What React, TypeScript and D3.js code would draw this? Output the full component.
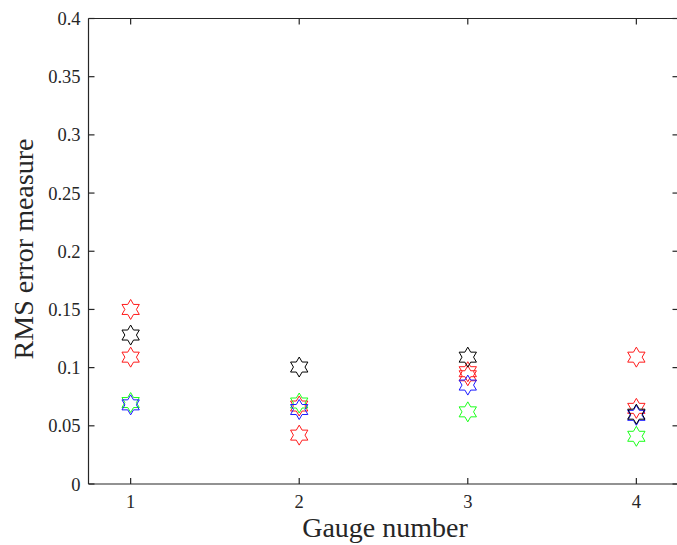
import React from "react";
import * as d3 from "d3";

const gauges = [1, 2, 3, 4];
const yTicks = [0, 0.05, 0.1, 0.15, 0.2, 0.25, 0.3, 0.35, 0.4];
const redA = [0.150, 0.067, 0.0965, 0.109];
const redB = [0.109, 0.042, 0.093, 0.065];
const green = [0.070, 0.0696, 0.062, 0.041];
const blue = [0.068, 0.064, 0.085, 0.059];
const black = [0.128, 0.1005, 0.109, 0.060];

const seriesList = [
  { name: "redA", color: "#ff1a1a", values: redA },
  { name: "redB", color: "#ff1a1a", values: redB },
  { name: "green", color: "#1aff1a", values: green },
  { name: "blue", color: "#1a1aff", values: blue },
  { name: "black", color: "#000000", values: black },
];

const W = 677, H = 545;
const left = 88.5, top = 18.5, bottom = 484, right = 678.5;
const axisColor = "#262626";
const font = "'Liberation Serif', 'Times New Roman', serif";

function hexagram(R: number) {
  const r = R / Math.sqrt(3);
  const pts: [number, number][] = [];
  for (let i = 0; i < 12; i++) {
    const a = (Math.PI / 6) * i - Math.PI / 2;
    const rad = i % 2 === 0 ? R : r;
    pts.push([rad * Math.cos(a), rad * Math.sin(a)]);
  }
  return d3.line()(pts.concat([pts[0]])) + "Z";
}

export default function App() {
  const x = d3.scaleLinear().domain([0.75, 4.25]).range([left, right]);
  const y = d3.scaleLinear().domain([0, 0.4]).range([bottom, top]);
  const star = hexagram(10);
  return (
    <svg width={W} height={H} style={{ position: "absolute", left: 0, top: 0, background: "#fff" }}>
      <rect x={0} y={0} width={W} height={H} fill="#fff" />
      {seriesList.map((s) =>
        s.values.map((v, i) => (
          <path
            key={s.name + i}
            d={star}
            transform={`translate(${x(gauges[i])},${y(v)})`}
            fill="none"
            stroke={s.color}
            strokeWidth={1}
          />
        ))
      )}
      <g stroke={axisColor} strokeWidth={1.2} fill="none">
        <line x1={left} x2={right} y1={bottom} y2={bottom} />
        <line x1={left} x2={right} y1={top} y2={top} />
        <line x1={left} x2={left} y1={top} y2={bottom} />
        <line x1={right} x2={right} y1={top} y2={bottom} />
        {gauges.map((g) => (
          <g key={"xt" + g}>
            <line x1={x(g)} x2={x(g)} y1={bottom} y2={bottom - 6} />
            <line x1={x(g)} x2={x(g)} y1={top} y2={top + 6} />
          </g>
        ))}
        {yTicks.map((t) => (
          <g key={"yt" + t}>
            <line x1={left} x2={left + 6} y1={y(t)} y2={y(t)} />
            <line x1={right} x2={right - 6} y1={y(t)} y2={y(t)} />
          </g>
        ))}
      </g>
      <g fill={axisColor} fontFamily={font} fontSize={18.5}>
        {gauges.map((g) => (
          <text key={"xl" + g} x={x(g)} y={507.5} textAnchor="middle">
            {g}
          </text>
        ))}
        {yTicks.map((t) => (
          <text key={"yl" + t} x={80.5} y={y(t) + 6.5} textAnchor="end">
            {String(t)}
          </text>
        ))}
      </g>
      <text x={385} y={537} textAnchor="middle" fontFamily={font} fontSize={28} fill={axisColor}>
        Gauge number
      </text>
      <text
        transform={`translate(33,249) rotate(-90)`}
        textAnchor="middle"
        fontFamily={font}
        fontSize={28}
        fill={axisColor}
      >
        RMS error measure
      </text>
    </svg>
  );
}
